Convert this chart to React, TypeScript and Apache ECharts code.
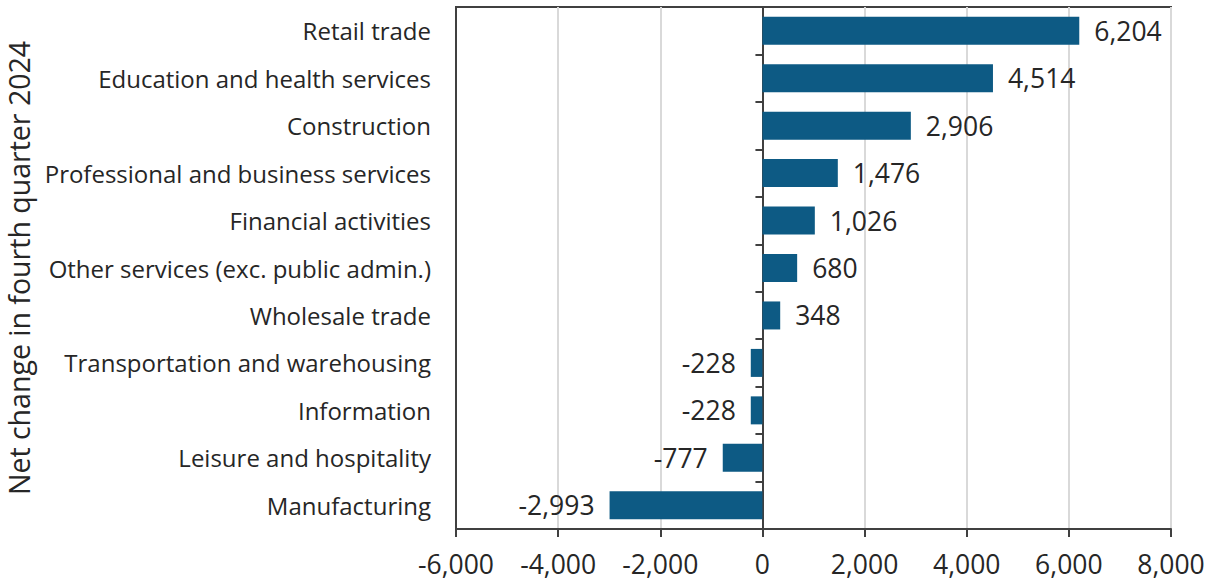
import React, { useEffect, useRef } from "react";
import * as echarts from "echarts";

const categories = [
  "Retail trade",
  "Education and health services",
  "Construction",
  "Professional and business services",
  "Financial activities",
  "Other services (exc. public admin.)",
  "Wholesale trade",
  "Transportation and warehousing",
  "Information",
  "Leisure and hospitality",
  "Manufacturing",
];
const values = [6204, 4514, 2906, 1476, 1026, 680, 348, -228, -228, -777, -2993];
const axisTitle = "Net change in fourth quarter 2024";
const xMin = -6000;
const xMax = 8000;
const xInterval = 2000;

const fmt = (v: number) => v.toLocaleString("en-US");

export default function App() {
  const ref = useRef<HTMLDivElement>(null);
  useEffect(() => {
    if (!ref.current) return;
    const chart = echarts.init(ref.current, null, { renderer: "svg" });
    const font = "'Open Sans', 'Noto Sans', sans-serif";
    const textColor = "#262626";
    const axisColor = "#404040";
    chart.setOption({
      animation: false,
      grid: {
        left: 456,
        right: 42,
        top: 7,
        bottom: 55,
        containLabel: false,
        outerBoundsMode: "none",
        show: true,
        borderColor: axisColor,
        borderWidth: 2,
        backgroundColor: "transparent",
      },
      xAxis: {
        type: "value",
        min: xMin,
        max: xMax,
        interval: xInterval,
        axisLine: { show: true, onZero: false, lineStyle: { color: axisColor, width: 2 } },
        axisTick: { show: true, length: 8, lineStyle: { color: axisColor, width: 2 } },
        splitLine: { show: true, lineStyle: { color: "#d9d9d9", width: 2 } },
        axisLabel: {
          formatter: (v: number) => fmt(v),
          fontSize: 26.5,
          fontFamily: font,
          color: textColor,
          margin: 21,
        },
      },
      yAxis: [
        {
          type: "category",
          data: categories,
          inverse: true,
          position: "left",
          axisLine: { show: true, onZero: false, lineStyle: { color: axisColor, width: 2 } },
          axisTick: { show: false },
          splitLine: { show: false },
          axisLabel: {
            fontSize: 24,
            fontFamily: font,
            color: textColor,
            margin: 25,
            padding: [0, 0, 4, 0],
          },
          name: axisTitle,
          nameLocation: "middle",
          nameGap: 419,
          nameRotate: 90,
          nameTextStyle: { fontSize: 28.5, fontFamily: font, color: textColor },
        },
        {
          type: "category",
          data: categories,
          inverse: true,
          position: "left",
          axisLine: { show: true, onZero: true, lineStyle: { color: axisColor, width: 2 } },
          axisTick: { show: true, length: 7, lineStyle: { color: axisColor, width: 2 } },
          axisLabel: { show: false },
          splitLine: { show: false },
        },
      ],
      series: [
        {
          type: "bar",
          yAxisIndex: 0,
          barWidth: "59%",
          itemStyle: { color: "#0d5a84" },
          data: values.map((v) => ({
            value: v,
            label: {
              show: true,
              position: v >= 0 ? "right" : "left",
              distance: 15,
              formatter: fmt(v),
              fontSize: 26.5,
              fontFamily: font,
              color: textColor,
            },
          })),
          z: 1,
        },
      ],
    });
    return () => chart.dispose();
  }, []);
  return (
    <div
      ref={ref}
      style={{ position: "fixed", left: 0, top: 0, width: 1213, height: 584, background: "#fff" }}
    />
  );
}
